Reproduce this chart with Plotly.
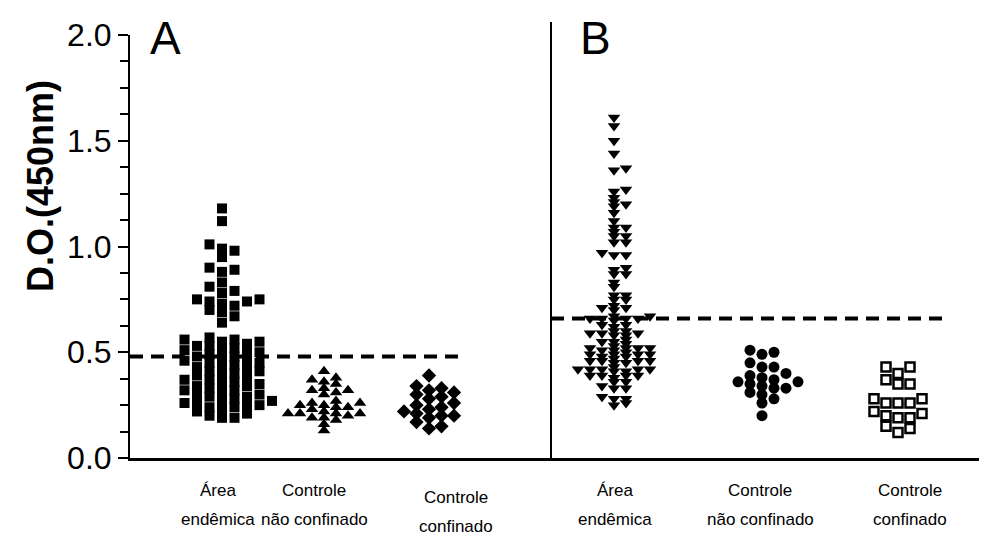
import plotly.graph_objects as go

# ---------------- data ----------------
label_line1 = ["Área", "Controle", "Controle", "Área", "Controle", "Controle"]
label_line2 = ["endêmica", "não confinado", "confinado", "endêmica", "não confinado", "confinado"]

a_area_endemica = [1.18, 1.12, 1.01, 0.99, 0.98, 0.95, 0.90, 0.89, 0.88, 0.83, 0.81, 0.79,
                   0.78, 0.75, 0.75, 0.74, 0.74, 0.73, 0.72, 0.70, 0.69, 0.67, 0.64,
                   0.57, 0.56, 0.56, 0.55, 0.55, 0.54, 0.53, 0.53, 0.52, 0.51, 0.51, 0.50,
                   0.50, 0.49, 0.48, 0.48, 0.47, 0.46, 0.46, 0.45, 0.45, 0.44, 0.43, 0.43,
                   0.42, 0.41, 0.41, 0.40, 0.39, 0.39, 0.38, 0.37, 0.37, 0.36, 0.35, 0.35,
                   0.34, 0.34, 0.33, 0.32, 0.32, 0.31, 0.30, 0.30, 0.29, 0.29, 0.28, 0.27,
                   0.27, 0.26, 0.26, 0.25, 0.25, 0.24, 0.24, 0.23, 0.22, 0.21, 0.20, 0.19, 0.19]
a_controle_nao_confinado = [0.41, 0.38, 0.37, 0.36, 0.35, 0.33, 0.32, 0.32, 0.31, 0.30,
                            0.27, 0.26, 0.26, 0.25, 0.25, 0.24, 0.24, 0.23, 0.22, 0.21,
                            0.21, 0.21, 0.21, 0.20, 0.19, 0.19, 0.18, 0.16, 0.13]
a_controle_confinado = [0.39, 0.34, 0.33, 0.32, 0.31, 0.30, 0.29, 0.28, 0.26, 0.25,
                        0.24, 0.23, 0.22, 0.21, 0.20, 0.20, 0.19, 0.17, 0.15, 0.14]
b_area_endemica = [1.61, 1.57, 1.50, 1.44, 1.37, 1.36, 1.27, 1.26, 1.23, 1.21, 1.20, 1.19,
                   1.16, 1.12, 1.09, 1.09, 1.07, 1.05, 1.05, 1.02, 1.02, 0.97, 0.96, 0.96,
                   0.90, 0.89, 0.87, 0.87, 0.83, 0.81, 0.77, 0.77, 0.75, 0.75, 0.72, 0.71,
                   0.71, 0.70, 0.67, 0.66, 0.66, 0.66, 0.65, 0.66, 0.67, 0.63, 0.63, 0.62,
                   0.60, 0.59, 0.59, 0.58, 0.59, 0.60, 0.58, 0.55, 0.55, 0.56, 0.54,
                   0.52, 0.52, 0.51, 0.52, 0.53, 0.52, 0.51, 0.49, 0.49, 0.48, 0.49, 0.49,
                   0.50, 0.48, 0.46, 0.46, 0.45, 0.46, 0.47, 0.46, 0.45, 0.42, 0.42, 0.41,
                   0.42, 0.42, 0.43, 0.42, 0.41, 0.39, 0.39, 0.38, 0.39, 0.39, 0.36, 0.36,
                   0.33, 0.33, 0.34, 0.28, 0.29, 0.28, 0.25, 0.26]
b_controle_nao_confinado = [0.51, 0.49, 0.50, 0.45, 0.43, 0.43, 0.40, 0.39, 0.38, 0.37,
                            0.36, 0.35, 0.33, 0.34, 0.36, 0.33, 0.31, 0.30, 0.28, 0.26, 0.20]
b_controle_confinado = [0.43, 0.43, 0.40, 0.37, 0.35, 0.35, 0.28, 0.28, 0.26, 0.26, 0.26,
                        0.22, 0.20, 0.19, 0.21, 0.19, 0.15, 0.14, 0.12]

cutoff_a = 0.48
cutoff_b = 0.66
y_ticks = [0.0, 0.5, 1.0, 1.5, 2.0]
y_ticktext = ["0.0", "0.5", "1.0", "1.5", "2.0"]

groups = [a_area_endemica, a_controle_nao_confinado, a_controle_confinado,
          b_area_endemica, b_controle_nao_confinado, b_controle_confinado]

# ---------------- layout / style ----------------
W, H = 987, 549
ML, MR, MT, MB = 122, 0, 27, 99
PW, PH = W - ML - MR, H - MT - MB
AX_BOTTOM = MT + PH                       # pixel row of the x axis
PX_PER_Y = PH / 2.0

# horizontal layout in pixel units (x axis spans ML..W)
group_x = [214, 316, 421, 606, 754, 890]
label_x = [210, 306, 448, 607, 752, 902]
label_dy = [0, 0, 7, 0, 0, 0]
divider_x = 543
dash_a_end = 456
dash_b_end = 940

symbols = ["square", "triangle-up", "diamond", "triangle-down", "circle", "square-open"]
sizes = [10, 11, 11, 11, 11, 9]
col_px = [12.5, 12.0, 12.5, 12.0, 12.0, 12.0]
overlap = [8, 5, 7, 4, 7, 7]


def swarm(values, center, cpx, h_px):
    order = sorted(range(len(values)), key=lambda i: values[i])
    placed = []
    xs = [center] * len(values)
    seq = [0]
    for k in range(1, 12):
        seq += [k, -k]
    for i in order:
        ypx = values[i] * PX_PER_Y
        chosen = seq[-1]
        for c in seq:
            if all(not (pc == c and abs(py - ypx) < h_px) for pc, py in placed):
                chosen = c
                break
        placed.append((chosen, ypx))
        xs[i] = center + chosen * cpx
    return xs


fig = go.Figure()
for gi, vals in enumerate(groups):
    xs = swarm(vals, group_x[gi], col_px[gi], overlap[gi])
    marker = dict(symbol=symbols[gi], size=sizes[gi], color="black")
    if symbols[gi] == "square-open":
        marker["line"] = dict(color="black", width=2.5)
    else:
        marker["line"] = dict(width=0)
    fig.add_trace(go.Scatter(x=xs, y=vals, mode="markers", marker=marker,
                             showlegend=False, hoverinfo="skip"))

# cutoff lines
fig.add_shape(type="line", x0=ML, x1=dash_a_end, y0=cutoff_a, y1=cutoff_a,
              line=dict(color="black", width=4, dash="13px,8px"))
fig.add_shape(type="line", x0=divider_x, x1=dash_b_end, y0=cutoff_b, y1=cutoff_b,
              line=dict(color="black", width=4, dash="13px,8px"))
# divider
fig.add_shape(type="line", x0=divider_x, x1=divider_x, y0=0, y1=(AX_BOTTOM - 14) / PH,
              xref="x", yref="paper", line=dict(color="black", width=2))


def ypaper(px):
    return (AX_BOTTOM - px) / PH


LBL_FONT = dict(family="Liberation Sans, Arial", size=17, color="black")
for i in range(6):
    fig.add_annotation(x=label_x[i], xref="x", y=ypaper(482 + label_dy[i]), yref="paper",
                       text=label_line1[i], showarrow=False, yanchor="middle",
                       xanchor="center", font=LBL_FONT)
    fig.add_annotation(x=label_x[i], xref="x", y=ypaper(511 + label_dy[i]), yref="paper",
                       text=label_line2[i], showarrow=False, yanchor="middle",
                       xanchor="center", font=LBL_FONT)

# panel letters
fig.add_annotation(x=140, xref="x", y=ypaper(2), yref="paper",
                   text="A", showarrow=False, xanchor="left", yanchor="top",
                   font=dict(family="Liberation Sans, Arial", size=46, color="black"))
fig.add_annotation(x=570, xref="x", y=ypaper(2), yref="paper",
                   text="B", showarrow=False, xanchor="left", yanchor="top",
                   font=dict(family="Liberation Sans, Arial", size=46, color="black"))

# y-axis title
fig.add_annotation(x=(33 - ML) / PW, xref="paper", y=ypaper(178), yref="paper",
                   text="<b>D.O.(450nm)</b>", showarrow=False, textangle=-90,
                   xanchor="center", yanchor="middle",
                   font=dict(family="Liberation Sans, Arial", size=36, color="black"))

fig.update_layout(
    width=W, height=H,
    margin=dict(l=ML, r=MR, t=MT, b=MB),
    paper_bgcolor="white", plot_bgcolor="white",
    xaxis=dict(range=[ML, W], showline=True, linecolor="black", linewidth=2.5,
               showticklabels=False, ticks="", showgrid=False, zeroline=False),
    yaxis=dict(range=[0, 2.0], showline=True, linecolor="black", linewidth=2,
               ticks="outside", ticklen=10, tickwidth=2, tickcolor="black",
               tickvals=y_ticks, ticktext=y_ticktext,
               minor=dict(dtick=0.125, ticks="outside", ticklen=8, tickwidth=2, tickcolor="black"),
               tickfont=dict(family="Liberation Sans, Arial", size=32, color="black"),
               showgrid=False, zeroline=False),
)

fig.write_html("out.html")
